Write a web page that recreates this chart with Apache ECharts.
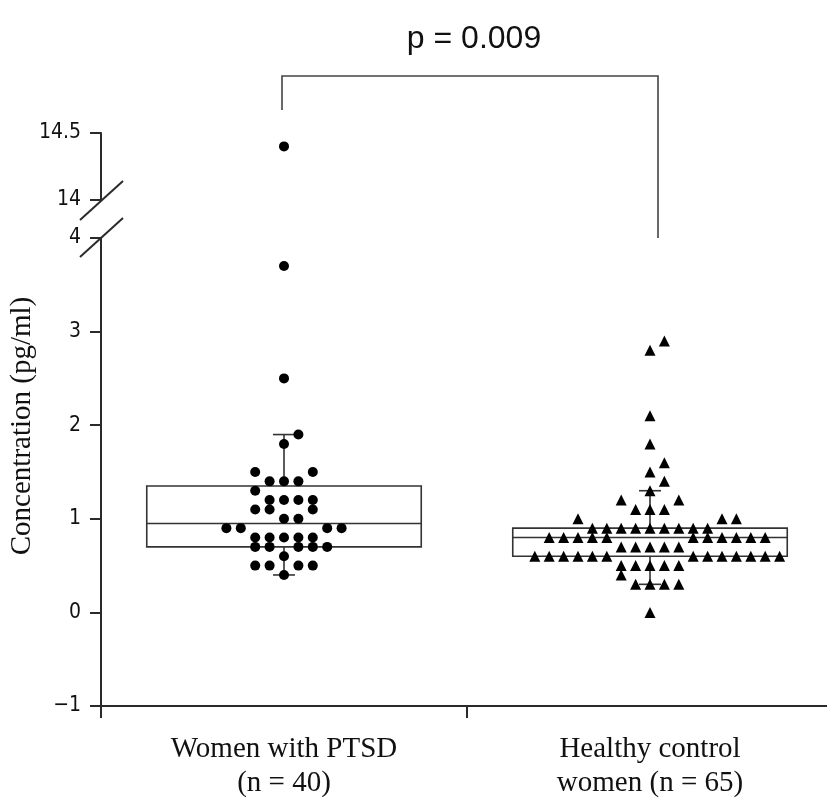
<!DOCTYPE html>
<html>
<head>
<meta charset="utf-8">
<script src="https://cdn.jsdelivr.net/npm/echarts@6/dist/echarts.min.js"></script>
<style>
  html, body { margin: 0; padding: 0; background: #fff; }
  #chart { width: 827px; height: 805px; }
</style>
</head>
<body>
<div id="chart"></div>
<script>
// ---------------- data ----------------
const categories = ['Women with PTSD\n(n = 40)', 'Healthy control\nwomen (n = 65)'];

const ptsdValues = [
  14.4, 3.7, 2.5, 1.9, 1.8,
  1.5, 1.5,
  1.4, 1.4, 1.4,
  1.3,
  1.2, 1.2, 1.2, 1.2,
  1.1, 1.1, 1.1,
  1.0, 1.0,
  0.9, 0.9, 0.9, 0.9,
  0.8, 0.8, 0.8, 0.8, 0.8,
  0.7, 0.7, 0.7, 0.7, 0.7,
  0.6,
  0.5, 0.5, 0.5, 0.5,
  0.4
];

const controlValues = [
  2.9, 2.8, 2.1, 1.8, 1.6, 1.5, 1.4, 1.3,
  1.2, 1.2,
  1.1, 1.1, 1.1,
  1.0, 1.0, 1.0,
  0.9, 0.9, 0.9, 0.9, 0.9, 0.9, 0.9, 0.9, 0.9,
  0.8, 0.8, 0.8, 0.8, 0.8, 0.8, 0.8, 0.8, 0.8, 0.8, 0.8,
  0.7, 0.7, 0.7, 0.7, 0.7,
  0.6, 0.6, 0.6, 0.6, 0.6, 0.6, 0.6, 0.6, 0.6, 0.6, 0.6, 0.6, 0.6,
  0.5, 0.5, 0.5, 0.5, 0.5,
  0.4,
  0.3, 0.3, 0.3, 0.3,
  0.0
];

// [lower whisker, Q1, median, Q3, upper whisker]
const ptsdBox = [0.4, 0.7, 0.95, 1.35, 1.9];
const controlBox = [0.3, 0.6, 0.8, 0.9, 1.3];

const lowerAxisRange = [-1, 4];     // ticks -1 … 4, step 1
const upperAxisRange = [14, 14.5];  // ticks 14, 14.5
const lowerStep = 1;
const upperStep = 0.5;
const pValueText = 'p = 0.009';
const yTitle = 'Concentration (pg/ml)';

// ---------------- layout (not data) ----------------
const plotLeft = 101, plotWidth = 732;
const upperTop = 133, upperHeight = 67;
const lowerTop = 238, lowerBottomPx = 706;
const dotSpacingPx = 14.4;
const dotSize = 10;

const lowerPxPerUnit = (lowerBottomPx - lowerTop) / (lowerAxisRange[1] - lowerAxisRange[0]);
const upperPxPerUnit = upperHeight / (upperAxisRange[1] - upperAxisRange[0]);
const colWidthValue = dotSpacingPx / (plotWidth / 2);   // x value axis spans 0..2

// deterministic row-based beeswarm: each row of equal values is centred;
// a row that touches a centred row just below it moves to the free columns.
function beeswarm(values, pxPerUnit) {
  const rowsMap = new Map();
  values.forEach((v, i) => {
    const key = Math.round(v * 1000);
    if (!rowsMap.has(key)) rowsMap.set(key, []);
    rowsMap.get(key).push(i);
  });
  const keys = [...rowsMap.keys()].sort((a, b) => a - b);
  const cols = new Array(values.length);
  const rows = [];
  for (const key of keys) {
    const idxs = rowsMap.get(key);
    const y = values[idxs[0]] * pxPerUnit;
    const blocked = new Set();
    rows.filter(r => Math.abs(r.y - y) < dotSize && r.mode === 'compact')
        .forEach(r => r.cols.forEach(c => blocked.add(c)));
    const mode = blocked.size ? 'avoid' : 'compact';
    const used = new Set();
    let k = 0;
    for (const i of idxs) {
      let c;
      do { c = k === 0 ? 0 : (k % 2 ? (k + 1) / 2 : -k / 2); k++; } while (blocked.has(c));
      used.add(c);
      cols[i] = c;
    }
    rows.push({ y, cols: used, mode });
  }
  return cols;
}

function swarmData(values, center, breakAt, upper) {
  const vals = values.filter(v => upper ? v > breakAt : v <= breakAt);
  const cols = beeswarm(vals, upper ? upperPxPerUnit : lowerPxPerUnit);
  return vals.map((v, i) => [center + cols[i] * colWidthValue, v]);
}

const breakAt = lowerAxisRange[1];
const ptsdLower = swarmData(ptsdValues, 0.5, breakAt, false);
const ptsdUpper = swarmData(ptsdValues, 0.5, breakAt, true);
const ctrlLower = swarmData(controlValues, 1.5, breakAt, false);
const ctrlUpper = swarmData(controlValues, 1.5, breakAt, true);

const axisColor = '#2a2a2a';
const tickFont = '"Liberation Sans Narrow", "DejaVu Sans Condensed", "Liberation Sans", sans-serif';
const serif = '"Liberation Serif", "DejaVu Serif", serif';
const minusFmt = v => String(v).replace('-', '\u2212');

function renderBox(params, api) {
  const idx = api.value(0);
  const lo = api.coord([idx, api.value(1)]);
  const q1 = api.coord([idx, api.value(2)]);
  const med = api.coord([idx, api.value(3)]);
  const q3 = api.coord([idx, api.value(4)]);
  const hi = api.coord([idx, api.value(5)]);
  const band = api.size([1, 0])[0];
  const bw = band * 0.75, cw = band * 0.06;
  const x = lo[0];
  const st = { stroke: '#333', lineWidth: 1.6, fill: null };
  return {
    type: 'group',
    children: [
      { type: 'rect', shape: { x: x - bw / 2, y: q3[1], width: bw, height: q1[1] - q3[1] }, style: { stroke: '#333', lineWidth: 1.6, fill: 'rgba(0,0,0,0)' } },
      { type: 'line', shape: { x1: x - bw / 2, y1: med[1], x2: x + bw / 2, y2: med[1] }, style: st },
      { type: 'line', shape: { x1: x, y1: q3[1], x2: x, y2: hi[1] }, style: st },
      { type: 'line', shape: { x1: x - cw / 2, y1: hi[1], x2: x + cw / 2, y2: hi[1] }, style: st },
      { type: 'line', shape: { x1: x, y1: q1[1], x2: x, y2: lo[1] }, style: st },
      { type: 'line', shape: { x1: x - cw / 2, y1: lo[1], x2: x + cw / 2, y2: lo[1] }, style: st }
    ]
  };
}

const chart = echarts.init(document.getElementById('chart'), null, { renderer: 'canvas' });

const option = {
  backgroundColor: '#fff',
  animation: false,
  title: {
    text: pValueText,
    left: 469,
    top: 18,
    textAlign: 'center',
    textStyle: { fontFamily: '"Liberation Sans", Arial, sans-serif', fontSize: 32, fontWeight: 'normal', color: '#111' }
  },
  grid: [
    { left: plotLeft, width: plotWidth, top: upperTop, height: upperHeight, containLabel: false, outerBoundsMode: 'none' },
    { left: plotLeft, width: plotWidth, top: lowerTop, height: lowerBottomPx - lowerTop, containLabel: false, outerBoundsMode: 'none' }
  ],
  xAxis: [
    { gridIndex: 0, type: 'value', min: 0, max: 2, show: false },
    {
      gridIndex: 1, type: 'category', data: categories, boundaryGap: true, position: 'bottom',
      axisLine: { onZero: false, lineStyle: { color: axisColor, width: 2 } },
      axisTick: { show: true, length: 12, lineStyle: { color: axisColor, width: 2 } },
      axisLabel: { margin: 26, fontFamily: serif, fontSize: 29, lineHeight: 34, color: '#111' },
      splitLine: { show: false }
    },
    { gridIndex: 1, type: 'value', min: 0, max: 2, show: false }
  ],
  yAxis: [
    {
      gridIndex: 0, type: 'value', min: upperAxisRange[0], max: upperAxisRange[1], interval: upperStep,
      axisLine: { show: true, onZero: false, lineStyle: { color: axisColor, width: 2 } },
      axisTick: { show: true, length: 11, lineStyle: { color: axisColor, width: 2 } },
      axisLabel: { margin: 20, fontFamily: tickFont, fontSize: 21, color: '#111', formatter: minusFmt },
      splitLine: { show: false }
    },
    {
      gridIndex: 1, type: 'value', min: lowerAxisRange[0], max: lowerAxisRange[1], interval: lowerStep,
      axisLine: { show: true, onZero: false, lineStyle: { color: axisColor, width: 2 } },
      axisTick: { show: true, length: 11, lineStyle: { color: axisColor, width: 2 } },
      axisLabel: { margin: 20, fontFamily: tickFont, fontSize: 21, color: '#111', formatter: minusFmt },
      splitLine: { show: false }
    }
  ],
  series: [
    {
      type: 'custom', name: 'box', xAxisIndex: 1, yAxisIndex: 1,
      data: [[0].concat(ptsdBox), [1].concat(controlBox)],
      renderItem: renderBox, z: 2, silent: true
    },
    { type: 'scatter', name: 'PTSD', xAxisIndex: 2, yAxisIndex: 1, data: ptsdLower, symbol: 'circle', symbolSize: dotSize, itemStyle: { color: '#000', opacity: 1 }, z: 3 },
    { type: 'scatter', name: 'PTSD high', xAxisIndex: 0, yAxisIndex: 0, data: ptsdUpper, symbol: 'circle', symbolSize: dotSize, itemStyle: { color: '#000', opacity: 1 }, z: 3 },
    { type: 'scatter', name: 'Control', xAxisIndex: 2, yAxisIndex: 1, data: ctrlLower, symbol: 'triangle', symbolSize: 11, itemStyle: { color: '#000', opacity: 1 }, z: 3 },
    { type: 'scatter', name: 'Control high', xAxisIndex: 0, yAxisIndex: 0, data: ctrlUpper, symbol: 'triangle', symbolSize: 11, itemStyle: { color: '#000', opacity: 1 }, z: 3 }
  ],
  graphic: [
    {
      type: 'text', x: 22, y: 426, rotation: Math.PI / 2,
      style: { text: yTitle, font: '29px ' + serif, fill: '#111', align: 'center', verticalAlign: 'middle' }
    },
    // significance bracket
    {
      type: 'polyline', shape: { points: [[282, 110], [282, 76], [658, 76], [658, 238]] },
      style: { stroke: '#444', lineWidth: 1.6, fill: null }
    },
    // axis break marks
    { type: 'line', shape: { x1: 80, y1: 220, x2: 123, y2: 181 }, style: { stroke: axisColor, lineWidth: 2 } },
    { type: 'line', shape: { x1: 80, y1: 257, x2: 123, y2: 218 }, style: { stroke: axisColor, lineWidth: 2 } }
  ]
};

chart.setOption(option);
</script>
</body>
</html>
